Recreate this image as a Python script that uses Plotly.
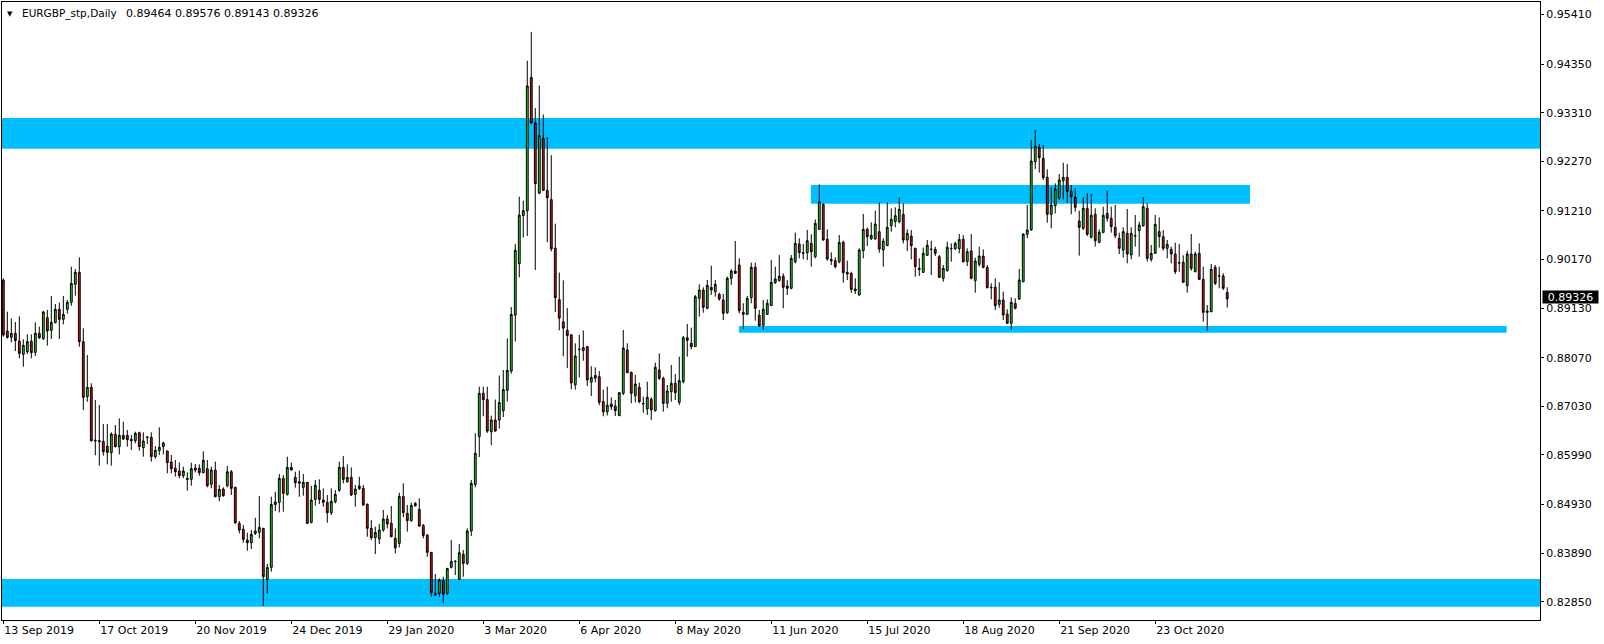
import pandas as pd
import plotly.graph_objects as go

# ---------------- data ----------------
opens = [
0.89731,0.88640,0.88505,0.88591,0.88426,0.88141,0.88198,0.88420,0.88184,0.88591,
0.88477,0.88926,0.88655,0.88819,0.89104,0.88890,0.89104,0.89254,0.89639,0.89895,
0.88412,0.87236,0.87436,0.86288,0.86295,0.86280,0.86174,0.86038,0.86430,0.86167,
0.86409,0.86409,0.86323,0.86295,0.86466,0.86145,0.86370,0.86366,0.85953,0.86081,
0.86167,0.86074,0.85839,0.85703,0.85646,0.85546,0.85489,0.85468,0.85710,0.85703,
0.85610,0.85696,0.85361,0.85667,0.85097,0.85260,0.85332,0.85631,0.85296,0.84526,
0.84398,0.84169,0.84112,0.84312,0.84333,0.84419,0.83328,0.83585,0.84925,0.84975,
0.85488,0.85146,0.85724,0.85510,0.85417,0.85296,0.85403,0.84547,0.85039,0.85232,
0.85025,0.84975,0.84754,0.84989,0.85232,0.85724,0.85417,0.85510,0.85146,0.85325,
0.85275,0.84932,0.84419,0.84219,0.84191,0.84383,0.84619,0.84526,0.84205,0.84098,
0.85103,0.84740,0.84583,0.84904,0.84825,0.84483,0.84276,0.83906,0.83029,0.83029,
0.83300,0.83029,0.83585,0.83706,0.83328,0.83863,0.83670,0.84362,0.85360,0.86381,
0.87308,0.87173,0.86484,0.86737,0.86737,0.86935,0.87371,0.87783,0.88979,0.90080,
0.91110,0.91213,0.94065,0.93091,0.91586,0.92758,0.91649,0.91451,0.90413,0.89312,
0.88837,0.88654,0.88559,0.87490,0.88243,0.88219,0.88306,0.87545,0.87632,0.87664,
0.87133,0.86911,0.87079,0.87037,0.86830,0.87308,0.88235,0.87757,0.87258,0.87436,
0.87079,0.86972,0.87179,0.86937,0.87807,0.87629,0.87094,0.87343,0.87522,0.87115,
0.87557,0.88496,0.88377,0.88306,0.89340,0.89518,0.89126,0.89575,0.89482,0.89425,
0.89304,0.89033,0.89767,0.89924,0.90053,0.89040,0.88997,0.89354,0.90003,0.88976,
0.88762,0.88997,0.89183,0.89675,0.89718,0.89810,0.89603,0.89554,0.90124,0.90502,
0.90316,0.90316,0.90515,0.90230,0.90815,0.91350,0.90601,0.90173,0.90145,0.90123,
0.90537,0.89895,0.89874,0.89539,0.89410,0.90359,0.90815,0.90615,0.90615,0.90765,
0.90373,0.90466,0.90893,0.90979,0.90979,0.91136,0.90587,0.90672,0.90408,0.89981,
0.89895,0.90259,0.90387,0.90387,0.90230,0.89767,0.89931,0.90401,0.90401,0.90401,
0.90601,0.90123,0.90352,0.89717,0.90066,0.90245,0.90002,0.89575,0.89575,0.89211,
0.89304,0.89004,0.88805,0.89233,0.89325,0.89696,0.90709,0.90801,0.92263,0.92569,
0.92334,0.91928,0.91136,0.91322,0.91493,0.91856,0.91928,0.91628,0.91500,0.90994,
0.90837,0.91265,0.90644,0.91136,0.90537,0.90751,0.91158,0.91051,0.90858,0.90623,
0.90373,0.90730,0.90267,0.90673,0.90787,0.90894,0.91265,0.90174,0.90302,0.90766,
0.90659,0.90409,0.90388,0.90288,0.90103,0.90110,0.89610,0.90288,0.89910,0.90302,
0.89746,0.89069,0.89054,0.90003,0.89818,0.89818,0.89464]

highs = [
0.89767,0.89054,0.88911,0.88833,0.88954,0.88462,0.88569,0.88569,0.88826,0.88733,
0.89075,0.89090,0.89389,0.89218,0.89247,0.89389,0.89304,0.90017,0.89967,0.90216,
0.88698,0.88127,0.87521,0.87165,0.87058,0.86651,0.86651,0.86473,0.86630,0.86772,
0.86701,0.86523,0.86416,0.86487,0.86487,0.86473,0.86395,0.86473,0.86181,0.86580,
0.86273,0.86081,0.85988,0.85881,0.85831,0.85739,0.85617,0.85824,0.85796,0.85789,
0.86067,0.85881,0.85739,0.85846,0.85346,0.85296,0.85752,0.85667,0.85310,0.84576,
0.84490,0.84326,0.84383,0.84647,0.85111,0.84430,0.83656,0.85096,0.85203,0.85581,
0.85560,0.85952,0.85824,0.85631,0.85652,0.85581,0.85410,0.85332,0.85453,0.85467,
0.85275,0.85132,0.85275,0.85239,0.85845,0.85966,0.85788,0.85724,0.85346,0.85524,
0.85346,0.84954,0.84597,0.84455,0.84512,0.84811,0.84704,0.84897,0.84419,0.85182,
0.85382,0.84918,0.84968,0.84982,0.85061,0.84512,0.84298,0.83913,0.83442,0.83350,
0.83385,0.83570,0.84169,0.83742,0.84084,0.83956,0.84419,0.85453,0.86451,0.87450,
0.87450,0.87450,0.86832,0.87173,0.87688,0.87807,0.88480,0.89154,0.90500,0.91514,
0.91427,0.94422,0.95039,0.93408,0.93891,0.93273,0.92790,0.92401,0.90936,0.89890,
0.89724,0.89130,0.88570,0.88377,0.88559,0.88654,0.88322,0.87886,0.87862,0.87783,
0.87387,0.87450,0.87222,0.87165,0.87330,0.88662,0.88377,0.87771,0.87700,0.87536,
0.87236,0.87557,0.87222,0.87964,0.88163,0.87664,0.87486,0.87914,0.87721,0.88092,
0.88532,0.88791,0.88712,0.89411,0.89639,0.89575,0.89732,0.90038,0.89732,0.89461,
0.89432,0.89803,0.89960,0.90566,0.90195,0.89233,0.89390,0.90103,0.90103,0.89090,
0.89304,0.89318,0.90159,0.90017,0.90267,0.89874,0.89732,0.90267,0.90744,0.90623,
0.90501,0.90801,0.90708,0.91029,0.91777,0.91371,0.90815,0.90323,0.90216,0.90694,
0.90572,0.90145,0.89909,0.89767,0.90408,0.91143,0.90851,0.90965,0.91214,0.91385,
0.90622,0.91392,0.91264,0.91285,0.91499,0.91371,0.90815,0.90801,0.90423,0.90195,
0.90423,0.90587,0.90572,0.90444,0.90266,0.90052,0.90551,0.90515,0.90551,0.90715,
0.90694,0.90408,0.90715,0.90209,0.90444,0.90387,0.90052,0.89660,0.89767,0.89682,
0.89482,0.89104,0.89361,0.89340,0.89967,0.90730,0.91336,0.92726,0.92940,0.92641,
0.92619,0.92099,0.91714,0.91799,0.91999,0.92241,0.92213,0.91764,0.91693,0.91215,
0.91493,0.91585,0.91571,0.91265,0.90815,0.91300,0.91642,0.91300,0.91336,0.90744,
0.90858,0.91250,0.90858,0.91122,0.90979,0.91500,0.91372,0.90480,0.91122,0.91072,
0.90801,0.90587,0.90445,0.90530,0.90502,0.90259,0.90359,0.90716,0.90338,0.90516,
0.90017,0.89197,0.90074,0.90053,0.90017,0.89874,0.89576]

lows = [
0.88519,0.88477,0.88398,0.88213,0.88056,0.87878,0.88149,0.88056,0.88106,0.88469,
0.88448,0.88327,0.88469,0.88805,0.88469,0.88783,0.89011,0.89182,0.89396,0.88305,
0.86951,0.87129,0.86273,0.85981,0.85760,0.85974,0.85789,0.85760,0.86152,0.86002,
0.86309,0.86167,0.86095,0.86238,0.86081,0.85953,0.86223,0.85846,0.85910,0.85988,
0.86002,0.85596,0.85596,0.85525,0.85489,0.85489,0.85225,0.85332,0.85617,0.85546,
0.85596,0.85297,0.85275,0.85083,0.85000,0.85096,0.85296,0.85132,0.84512,0.84312,
0.84112,0.83941,0.83977,0.84276,0.84205,0.82764,0.83029,0.83492,0.84790,0.84761,
0.84775,0.85118,0.85660,0.85289,0.85096,0.85118,0.84512,0.84526,0.84904,0.84939,
0.84882,0.84540,0.84704,0.84954,0.85203,0.85382,0.85396,0.85111,0.84882,0.85239,
0.84904,0.84241,0.84169,0.83870,0.84084,0.84348,0.84419,0.84226,0.83884,0.84013,
0.84654,0.84348,0.84562,0.84882,0.84455,0.84205,0.83813,0.82957,0.82972,0.82957,
0.82822,0.82993,0.83563,0.83421,0.83314,0.83385,0.83635,0.84255,0.85296,0.85945,
0.86817,0.86460,0.86199,0.86490,0.86555,0.86801,0.87133,0.87728,0.88417,0.89787,
0.90643,0.90674,0.93080,0.89946,0.91570,0.91640,0.90540,0.90342,0.89050,0.88654,
0.88100,0.87846,0.87395,0.87387,0.87648,0.88005,0.87466,0.87252,0.87545,0.87054,
0.86817,0.86832,0.86951,0.86823,0.86823,0.87272,0.87735,0.87094,0.87115,0.87094,
0.86894,0.86844,0.86737,0.86915,0.87593,0.86915,0.86987,0.87129,0.87165,0.87058,
0.87522,0.88092,0.88249,0.88299,0.88948,0.89033,0.89104,0.89411,0.89375,0.89290,
0.88876,0.89005,0.89625,0.89860,0.89019,0.88677,0.88983,0.89233,0.88862,0.88734,
0.88662,0.88983,0.89176,0.89646,0.89696,0.89126,0.89411,0.89532,0.90088,0.90195,
0.90173,0.90159,0.90016,0.90195,0.90801,0.90572,0.90145,0.90052,0.89981,0.90088,
0.89674,0.89731,0.89460,0.89432,0.89396,0.90195,0.90458,0.90587,0.90587,0.90316,
0.90016,0.90458,0.90765,0.90858,0.90943,0.90515,0.90352,0.90173,0.89802,0.89817,
0.89888,0.90245,0.89838,0.90245,0.89781,0.89696,0.89909,0.90123,0.90373,0.90302,
0.90102,0.90031,0.89745,0.89460,0.90016,0.89981,0.89553,0.89318,0.89090,0.89140,
0.88876,0.88791,0.88662,0.89104,0.89304,0.89682,0.90623,0.90787,0.92106,0.92028,
0.91871,0.90958,0.90837,0.91158,0.91443,0.91457,0.91386,0.91136,0.91193,0.90252,
0.90801,0.90673,0.90623,0.90445,0.90516,0.90730,0.90979,0.90744,0.90623,0.90288,
0.90210,0.90088,0.90174,0.90445,0.90231,0.90872,0.90124,0.90124,0.90288,0.90423,
0.90359,0.90195,0.90088,0.89860,0.89910,0.89675,0.89461,0.89931,0.89896,0.89732,
0.88840,0.88640,0.89040,0.89625,0.89554,0.89518,0.89143]

closes = [
0.88555,0.88505,0.88591,0.88434,0.88163,0.88334,0.88412,0.88177,0.88591,0.88498,
0.89047,0.88640,0.88826,0.89104,0.88890,0.88997,0.89254,0.89660,0.89895,0.88412,
0.87222,0.87436,0.86295,0.86302,0.86273,0.86059,0.86045,0.86437,0.86167,0.86409,
0.86330,0.86316,0.86295,0.86452,0.86167,0.86288,0.86366,0.85953,0.86088,0.86152,
0.86245,0.85824,0.85696,0.85632,0.85546,0.85646,0.85468,0.85696,0.85667,0.85610,
0.85874,0.85332,0.85667,0.85097,0.85254,0.85118,0.85631,0.85275,0.84540,0.84383,
0.84184,0.84112,0.84291,0.84362,0.84440,0.83385,0.83585,0.84932,0.84982,0.85488,
0.85168,0.85724,0.85667,0.85396,0.85382,0.85403,0.84526,0.85025,0.85339,0.85039,
0.84975,0.84754,0.84997,0.85146,0.85724,0.85467,0.85510,0.85132,0.85260,0.85268,
0.84918,0.84419,0.84219,0.84333,0.84383,0.84619,0.84512,0.84241,0.84005,0.85103,
0.84754,0.84583,0.84911,0.84954,0.84469,0.84269,0.83906,0.83043,0.82993,0.83314,
0.83014,0.83563,0.83706,0.83712,0.83898,0.83670,0.84362,0.85382,0.86023,0.87308,
0.87173,0.86500,0.86737,0.86500,0.87110,0.87387,0.87799,0.88995,0.90366,0.91118,
0.91213,0.93883,0.93091,0.91792,0.92821,0.91649,0.91490,0.90397,0.89352,0.88916,
0.88702,0.88544,0.87529,0.88108,0.88250,0.88282,0.87593,0.87648,0.87688,0.87118,
0.86911,0.87054,0.87022,0.86937,0.87322,0.88277,0.87750,0.87308,0.87507,0.87129,
0.87086,0.87222,0.86951,0.87864,0.87629,0.87094,0.87357,0.87522,0.87322,0.87579,
0.88496,0.88441,0.88306,0.89375,0.89518,0.89147,0.89618,0.89518,0.89639,0.89325,
0.89019,0.89767,0.89924,0.89874,0.89076,0.88997,0.89340,0.90003,0.89126,0.88748,
0.89104,0.89233,0.89682,0.89753,0.89810,0.89575,0.89554,0.90195,0.90516,0.90316,
0.90302,0.90572,0.90337,0.90943,0.91407,0.90587,0.90180,0.90145,0.90016,0.90537,
0.89888,0.89860,0.89532,0.89503,0.90373,0.90815,0.90658,0.90687,0.90929,0.90394,
0.90565,0.90858,0.91029,0.91107,0.91243,0.90587,0.90729,0.90466,0.90016,0.89959,
0.90302,0.90473,0.90387,0.90302,0.89788,0.89981,0.90430,0.90408,0.90515,0.90601,
0.90123,0.90337,0.89767,0.90138,0.90245,0.90002,0.89567,0.89568,0.89183,0.89304,
0.88983,0.88805,0.89254,0.89126,0.89732,0.90716,0.90801,0.92277,0.92598,0.92348,
0.91921,0.91136,0.91336,0.91678,0.91871,0.91928,0.91628,0.91514,0.91286,0.90858,
0.91265,0.90709,0.91115,0.90573,0.90751,0.91115,0.91051,0.90873,0.90680,0.90409,
0.90766,0.90288,0.90730,0.90680,0.90908,0.91300,0.90195,0.90302,0.90922,0.90659,
0.90409,0.90495,0.90288,0.89910,0.90095,0.89682,0.90288,0.89981,0.90288,0.89746,
0.89040,0.89040,0.89960,0.89660,0.89818,0.89554,0.89326]

# trading days shown by the chart (weekdays, no bars on 25 Dec and 1 Jan)
missing_days = ["2019-12-25", "2020-01-01"]
all_days = pd.bdate_range("2019-09-13", periods=330)
days = [d for d in all_days if d.strftime("%Y-%m-%d") not in missing_days][:len(opens)]
dates = [d.strftime("%Y.%m.%d") for d in days]

x_tick_dates = ["2019.09.13", "2019.10.17", "2019.11.20", "2019.12.24", "2020.01.29",
                "2020.03.03", "2020.04.06", "2020.05.08", "2020.06.11", "2020.07.15",
                "2020.08.18", "2020.09.21", "2020.10.23"]
x_tick_text = ["13 Sep 2019", "17 Oct 2019", "20 Nov 2019", "24 Dec 2019", "29 Jan 2020",
               "3 Mar 2020", "6 Apr 2020", "8 May 2020", "11 Jun 2020", "15 Jul 2020",
               "18 Aug 2020", "21 Sep 2020", "23 Oct 2020"]
y_tick_text = ["0.82850", "0.83890", "0.84930", "0.85990", "0.87030", "0.88070", "0.89130",
               "0.90170", "0.91210", "0.92270", "0.93310", "0.94350", "0.95410"]
y_tick_vals = [float(t) for t in y_tick_text]

symbol = "EURGBP_stp,Daily"
last_bar = [0.89464, 0.89576, 0.89143, 0.89326]

# support / resistance zones: (price low, price high, bar from, bar to) ; None = full width
zones = [
    (0.92540, 0.93197, None, None),
    (0.91363, 0.91763, 201.9, 311.7),
    (0.88604, 0.88747, 183.9, 375.85),
    (0.82743, 0.83336, None, None),
]

# ---------------- figure ----------------
FONT = "DejaVu Sans"
BULL = "#1ed81e"
BEAR = "#e01212"
ZONE = "#00bfff"

fig = go.Figure()
fig.add_trace(go.Candlestick(
    x=dates, open=opens, high=highs, low=lows, close=closes,
    increasing=dict(line=dict(color="black", width=1), fillcolor=BULL),
    decreasing=dict(line=dict(color="black", width=1), fillcolor=BEAR),
    whiskerwidth=0, hoverinfo="skip", showlegend=False,
))

shapes = []
for lo, hi, b0, b1 in zones:
    if b0 is None:
        shapes.append(dict(type="rect", xref="paper", x0=0, x1=1, yref="y", y0=lo, y1=hi,
                           fillcolor=ZONE, line=dict(width=0), layer="below"))
    else:
        shapes.append(dict(type="rect", xref="x", x0=b0, x1=b1, yref="y", y0=lo, y1=hi,
                           fillcolor=ZONE, line=dict(width=0), layer="below"))

annotations = [
    dict(xref="paper", yref="paper", x=0, y=1, xanchor="left", yanchor="middle",
         xshift=3.5, yshift=-11.5, text="▼", showarrow=False, borderpad=0,
         font=dict(family=FONT, size=7, color="black")),
    dict(xref="paper", yref="paper", x=0, y=1, xanchor="left", yanchor="middle",
         xshift=18.5, yshift=-11.5, text=symbol, showarrow=False, borderpad=0,
         font=dict(family=FONT, size=10.5, color="black")),
    dict(xref="paper", yref="paper", x=0, y=1, xanchor="left", yanchor="middle",
         xshift=122.5, yshift=-11.5, text=" ".join(f"{v:.5f}" for v in last_bar),
         showarrow=False, borderpad=0,
         font=dict(family=FONT, size=11, color="black")),
    dict(xref="paper", yref="y", x=1, y=last_bar[3], xanchor="left", yanchor="middle",
         xshift=1.5, yshift=1.8, text=f"{last_bar[3]:.5f}", showarrow=False,
         bgcolor="black", borderpad=0, width=55, height=12, align="center",
         font=dict(family=FONT, size=11, color="white")),
]

fig.update_layout(
    width=1604, height=644, autosize=False,
    margin=dict(l=2, r=64, t=2, b=24, pad=0),
    paper_bgcolor="white", plot_bgcolor="white",
    boxgap=0.35,
    shapes=shapes, annotations=annotations,
    showlegend=False,
    xaxis=dict(
        type="category", range=[-0.33, 384.2],
        rangeslider=dict(visible=False),
        tickmode="array", tickvals=x_tick_dates, ticktext=x_tick_text,
        ticks="outside", ticklen=3, tickwidth=1, tickcolor="black",
        ticklabelposition="outside right",
        tickfont=dict(family=FONT, size=11, color="black"),
        showgrid=False, zeroline=False,
        showline=True, linecolor="black", linewidth=1, mirror=True,
        fixedrange=True,
    ),
    yaxis=dict(
        side="right", range=[0.82459, 0.95678],
        tickmode="array", tickvals=y_tick_vals, ticktext=y_tick_text,
        ticks="outside", ticklen=3, tickwidth=1, tickcolor="black",
        tickfont=dict(family=FONT, size=11, color="black"),
        showgrid=False, zeroline=False,
        showline=True, linecolor="black", linewidth=1, mirror=True,
        fixedrange=True,
    ),
)

fig.write_html(
    "out.html",
    config={"displayModeBar": False},
    post_script="document.body.style.margin='0px';document.body.style.padding='0px';",
)
